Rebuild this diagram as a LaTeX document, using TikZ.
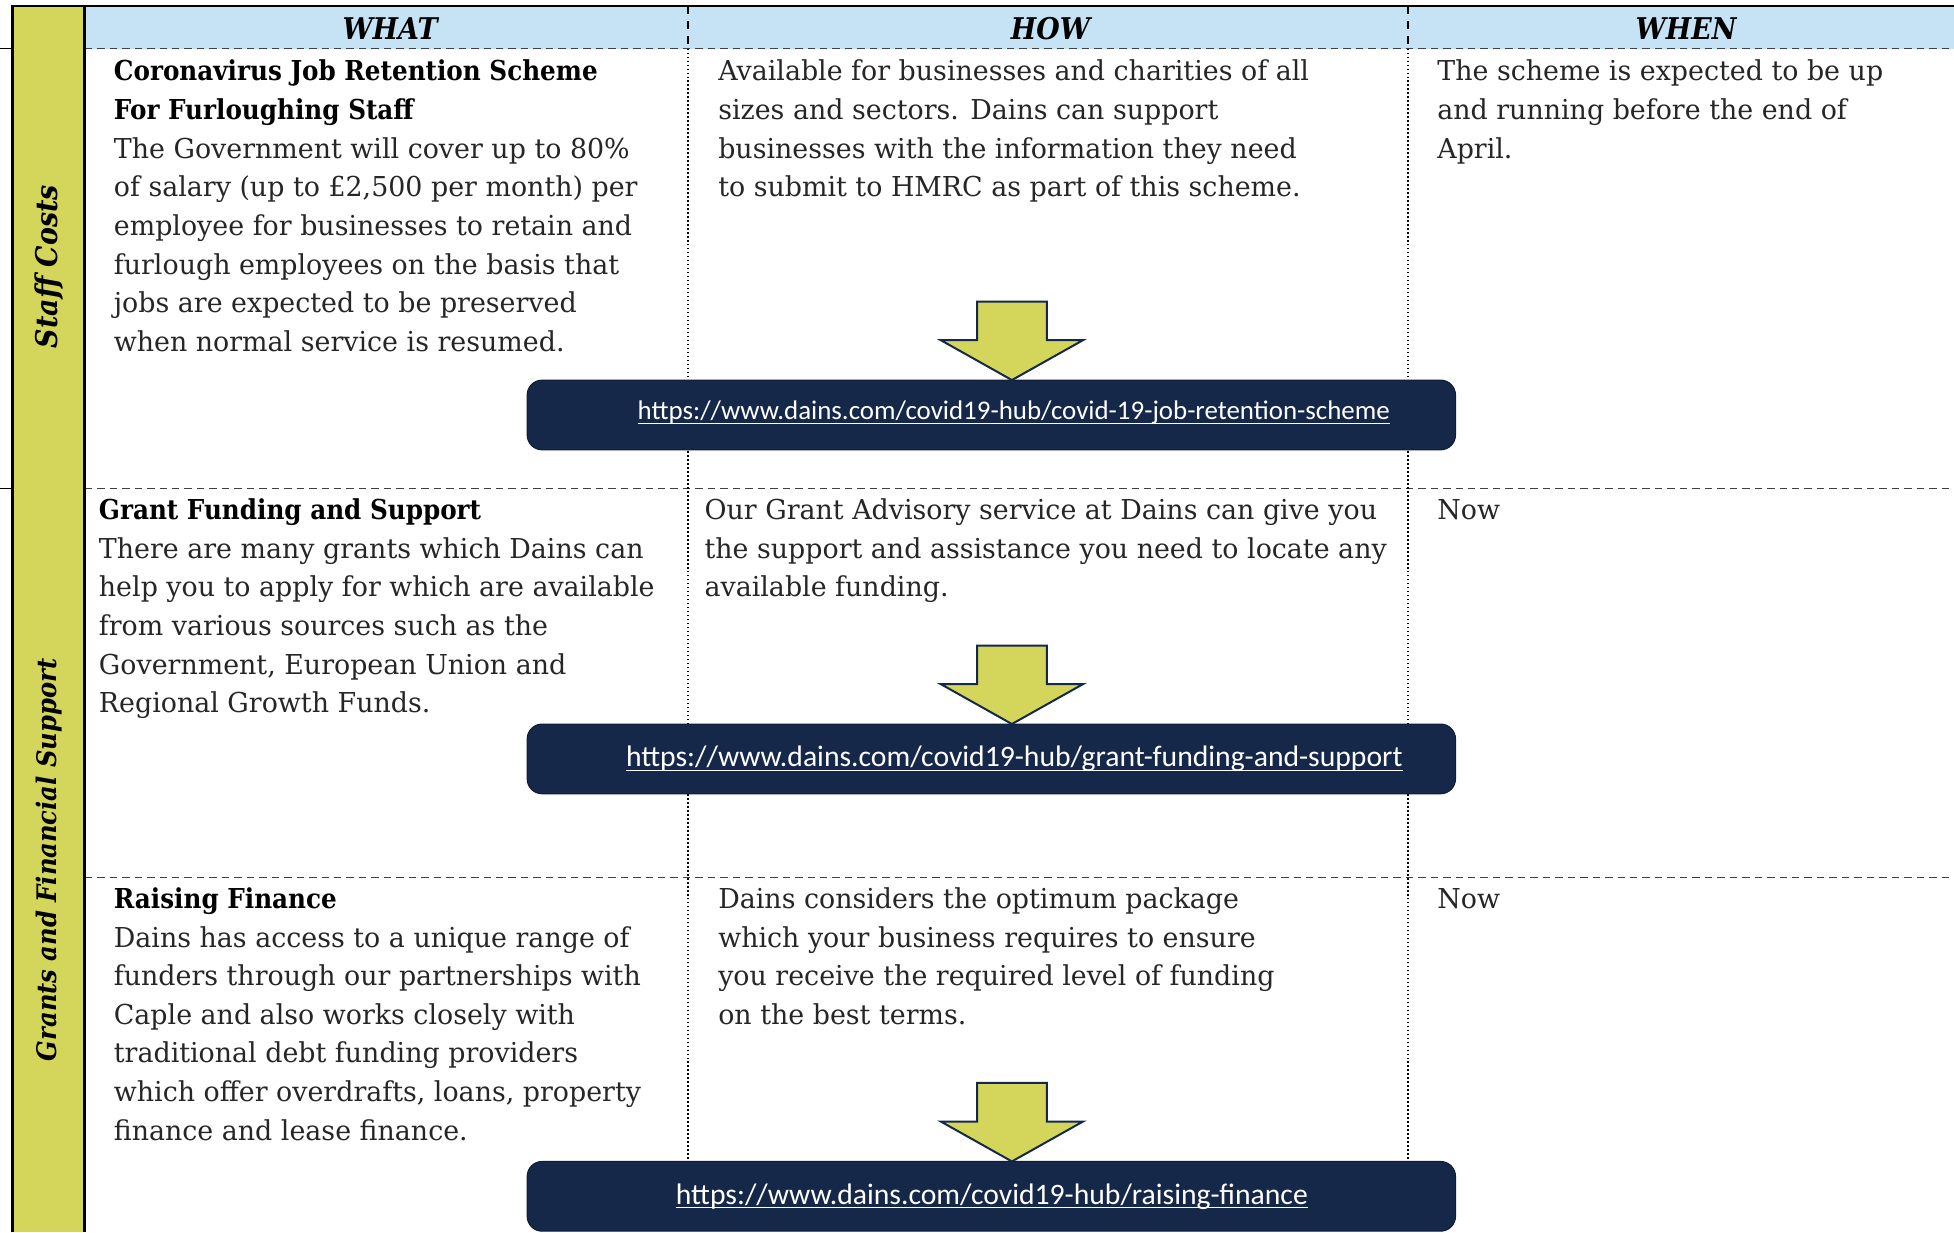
\documentclass[tikz,border=0pt]{standalone}
\usepackage{fontspec}
\setmainfont{DejaVu Serif}[FakeStretch=0.98]
\newfontfamily\slabfont{DejaVu Serif}[FakeStretch=0.9]
\newfontfamily\linkfont{Carlito}
\definecolor{sidegreen}{HTML}{D3D65A}
\definecolor{headblue}{HTML}{C6E3F5}
\definecolor{navy}{HTML}{16284A}
\definecolor{ink}{HTML}{262626}
\newcommand{\lines}[1]{\begin{tabular}[t]{@{}l@{}}#1\end{tabular}}
\newcommand{\ulink}[1]{\setbox0\hbox{#1}\rlap{\rule[-1.7pt]{\wd0}{0.5pt}}\box0}
\newcommand{\titletext}[1]{\textcolor{black}{\slabfont\bfseries #1}}
\begin{document}
\begin{tikzpicture}[x=0.5pt, y=-0.5pt,
                    cell/.style = {anchor=base west,
                                   inner sep=0pt,
                                   text=ink,
                                   font=\fontsize{11}{15.5}\selectfont},
                    head/.style = {inner sep=0pt,
                                   font=\slabfont\fontsize{12}{14}\selectfont\bfseries\itshape},
                    side/.style = {rotate=90,
                                   inner sep=0pt,
                                   font=\slabfont\fontsize{10.8}{13}\selectfont\bfseries\itshape},
                    link/.style = {fill=navy,
                                   draw=navy!70!black,
                                   rounded corners=6pt,
                                   minimum width=372.5pt,
                                   minimum height=28pt,
                                   inner sep=0pt},
                    url/.style = {text=white,
                                  inner sep=0pt,
                                  font=\linkfont\fontsize{11.9}{13}\selectfont},
                    blockarrow/.style = {fill=sidegreen,
                                         draw=navy,
                                         line width=0.8pt},
                    rowline/.style = {densely dashed, line width=0.4pt, black!75},
                    colline/.style = {densely dotted, line width=0.6pt},
                    headcol/.style = {dashed, line width=0.9pt}]
    \useasboundingbox (0,0) rectangle (1568,989);
    \fill[sidegreen] (10,5) rectangle (68,989);
    \fill[headblue] (68,5) rectangle (1568,39);
    \foreach \y in {39,392,704}
        \draw[rowline] (68,\y) -- (1568,\y);
    \draw[line width=0.3pt] (0,39) -- (10,39);
    \draw[line width=0.3pt] (0,392) -- (10,392);
    \foreach \x in {552,1130} {
        \draw[headcol] (\x,5) -- (\x,39);
        \draw[colline] (\x,39) -- (\x,989);
    }
    \draw[line width=1pt] (10,989) -- (10,5) -- (1568,5);
    \draw[line width=1pt] (68,5) -- (68,989);

    \node[head] (what) at (313,23) {WHAT};
    \node[head] (how) at (843,23) {HOW};
    \node[head] (when) at (1353,23) {WHEN};

    \node[side, font=\slabfont\fontsize{12}{14}\selectfont\bfseries\itshape] (staff) at (39,214) {Staff Costs};
    \node[side] (grants) at (39,690) {Grants and Financial Support};

    \node[cell] (what1) at (91,65) {\lines{\titletext{Coronavirus Job Retention Scheme}\\
        \titletext{For Furloughing Staff}\\
        The Government will cover up to 80\%\\
        of salary (up to £2,500 per month) per\\
        employee for businesses to retain and\\
        furlough employees on the basis that\\
        jobs are expected to be preserved\\
        when normal service is resumed.}};
    \node[cell] (how1) at (576,65) {\lines{Available for businesses and charities of all\\
        sizes and sectors. Dains can support\\
        businesses with the information they need\\
        to submit to HMRC as part of this scheme.}};
    \node[cell] (when1) at (1153,65) {\lines{The scheme is expected to be up\\
        and running before the end of\\
        April.}};

    \node[cell] (what2) at (79,417) {\lines{\titletext{Grant Funding and Support}\\
        There are many grants which Dains can\\
        help you to apply for which are available\\
        from various sources such as the\\
        Government, European Union and\\
        Regional Growth Funds.}};
    \node[cell] (how2) at (565,417) {\lines{Our Grant Advisory service at Dains can give you\\
        the support and assistance you need to locate any\\
        available funding.}};
    \node[cell] (when2) at (1153,417) {Now};

    \node[cell] (what3) at (91,729) {\lines{\titletext{Raising Finance}\\
        Dains has access to a unique range of\\
        funders through our partnerships with\\
        Caple and also works closely with\\
        traditional debt funding providers\\
        which offer overdrafts, loans, property\\
        finance and lease finance.}};
    \node[cell] (how3) at (576,729) {\lines{Dains considers the optimum package\\
        which your business requires to ensure\\
        you receive the required level of funding\\
        on the best terms.}};
    \node[cell] (when3) at (1153,729) {Now};

    \node[link] (box1) at (795.5,333) {};
    \node[link] (box2) at (795.5,609) {};
    \node[link] (box3) at (795.5,960) {};
    \node[url, font=\linkfont\fontsize{10.8}{12}\selectfont] (url1) at (813.5,331) {\ulink{https://www.dains.com/covid19-hub/covid-19-job-retention-scheme}};
    \node[url] (url2) at (814,609) {\ulink{https://www.dains.com/covid19-hub/grant-funding-and-support}};
    \node[url] (url3) at (796,960) {\ulink{https://www.dains.com/covid19-hub/raising-finance}};

    \foreach \ty in {305,581,932}
        \draw[blockarrow] (812,\ty) -- ++(-57,-32) -- ++(29,0) -- ++(0,-31)
            -- ++(56,0) -- ++(0,31) -- ++(29,0) -- cycle;
\end{tikzpicture}
\end{document}
